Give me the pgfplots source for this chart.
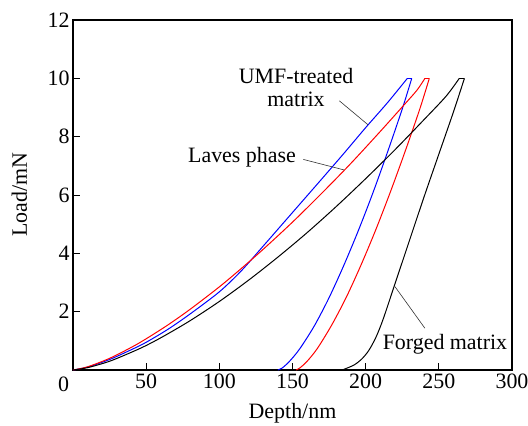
\documentclass[border=0pt]{standalone}
\usepackage{fontspec}
\setmainfont{Liberation Serif}
\usepackage{pgfplots}
\pgfplotsset{compat=1.18}
\begin{document}
\begin{tikzpicture}[font=\fontsize{22}{23}\selectfont]
\path[use as bounding box] (-73bp,-56bp) rectangle (455bp,370bp);
\begin{axis}[
  at={(0,0)}, anchor=south west,
  scale only axis, width=439bp, height=350bp,
  xmin=0, xmax=300, ymin=0, ymax=12,
  xtick={50,100,150,200,250,300},
  ytick={2,4,6,8,10,12},
  xtick pos=left, ytick pos=left,
  tick align=inside,
  major tick length=7bp,
  tick style={line width=0.9bp, black},
  axis line style={line width=1.1bp},
  /pgf/number format/assume math mode=true,
  xlabel={Depth/nm}, ylabel={Load/mN},
  xlabel style={at={(axis description cs:0.5,0)}, anchor=base, yshift=-48bp},
  ylabel style={at={(axis description cs:-0.1048,0.5)}, anchor=base},
  clip=false,
]
% UMF-treated matrix (blue)
\addplot[blue, line width=1bp, smooth] coordinates {
(0,0) (10,0.10) (25,0.36) (40,0.70) (50,0.95) (65,1.40) (80,1.92) (100,2.68)
(115,3.40) (130,4.25) (150,5.40) (170,6.55) (185,7.42) (200,8.31) (215,9.17) (228.5,10)};
\addplot[blue, line width=1bp] coordinates {(228.5,10) (231.5,10)};
\addplot[blue, line width=1bp, smooth] coordinates {
(231.5,10) (225,8.95) (215,7.48) (205,6.08) (195,4.78) (185,3.58) (175,2.48)
(165,1.52) (155,0.73) (148,0.30) (143,0.07) (140,0)};
% Laves phase (red)
\addplot[red, line width=1bp, smooth] coordinates {
(0,0) (10,0.11) (25,0.40) (40,0.78) (50,1.07) (65,1.55) (80,2.08) (100,2.85)
(115,3.48) (130,4.14) (150,5.07) (170,6.06) (190,7.09) (210,8.18) (225,9.02) (235,9.59) (240.5,10)};
\addplot[red, line width=1bp] coordinates {(240.5,10) (243.5,10)};
\addplot[red, line width=1bp, smooth] coordinates {
(243.5,10) (237,8.95) (227,7.50) (217,6.12) (207,4.82) (197,3.62) (187,2.52)
(177,1.56) (167,0.74) (160,0.30) (155,0.07) (152.5,0)};
% Forged matrix (black)
\addplot[black, line width=1bp, smooth] coordinates {
(0,0) (10,0.08) (25,0.30) (40,0.61) (50,0.84) (62,1.16) (80,1.69) (100,2.35)
(120,3.08) (140,3.87) (160,4.71) (180,5.61) (200,6.56) (220,7.55) (240,8.59) (255,9.39) (264,10)};
\addplot[black, line width=1bp] coordinates {(264,10) (267.5,10)};
\addplot[black, line width=1bp, smooth] coordinates {
(267.5,10) (260,8.85) (250,7.40) (240,5.95) (230,4.45) (220,2.95) (212,1.75)
(207,1.12) (202,0.66) (197,0.36) (192,0.17) (187,0.06) (184,0)};
% annotations
\node[align=center] at (axis cs:152.4,9.67) {UMF-treated\\matrix};
\draw[line width=0.6bp, black!80] (axis cs:182,9.23) -- (axis cs:201.8,8.4);
\node[anchor=base] at (axis cs:115.5,7.1) {Laves phase};
\draw[line width=0.6bp, black!80] (axis cs:157.4,7.22) -- (axis cs:185.2,6.86);
\node[anchor=base] at (axis cs:254.2,0.69) {Forged matrix};
\draw[line width=0.6bp, black!80] (axis cs:240.5,1.43) -- (axis cs:220,2.86);
\node at (rel axis cs:0,0) [xshift=-9.5bp, yshift=-14bp] {0};
\end{axis}
\end{tikzpicture}
\end{document}
